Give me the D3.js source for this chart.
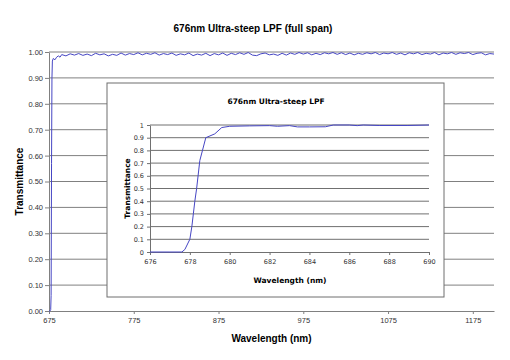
<!DOCTYPE html>
<html>
<head>
<meta charset="utf-8">
<script src="https://cdn.jsdelivr.net/npm/d3@7"></script>
<style>
  body { margin: 0; background: #fff; }
  svg { display: block; }
</style>
</head>
<body>
<svg id="chart" width="510" height="360"></svg>
<script>
// full span data (nm, transmittance)
const fullWavelength = [675, 676, 677, 677.5, 678, 678.5, 679, 680, 682, 684, 686, 688,
  690, 695, 700, 705, 710, 715, 720, 725, 730, 735, 740, 745, 750, 755, 760, 765, 770, 775,
  780, 785, 790, 795, 800, 805, 810, 815, 820, 825, 830, 835, 840, 845, 850, 855, 860, 865,
  870, 875, 880, 885, 890, 895, 900, 905, 910, 915, 920, 925, 930, 935, 940, 945, 950, 955,
  960, 965, 970, 975, 980, 985, 990, 995, 1000, 1005, 1010, 1015, 1020, 1025, 1030, 1035,
  1040, 1045, 1050, 1055, 1060, 1065, 1070, 1075, 1080, 1085, 1090, 1095, 1100, 1105, 1110,
  1115, 1120, 1125, 1130, 1135, 1140, 1145, 1150, 1155, 1160, 1165, 1170, 1175, 1180, 1185,
  1190, 1195, 1200];
const fullTransmittance = [0.0, 0.0, 0.005, 0.06, 0.57, 0.9, 0.965, 0.975, 0.97, 0.98, 0.985, 0.98,
  0.990, 0.985, 0.993, 0.988, 0.994, 0.987, 0.992, 0.986, 0.995, 0.989, 0.993, 0.985, 0.991, 0.987,
  0.996, 0.988, 0.994, 0.990, 0.997, 0.989, 0.995, 0.991, 0.997, 0.988, 0.994, 0.990, 0.996, 0.987,
  0.993, 0.989, 0.996, 0.986, 0.992, 0.988, 0.995, 0.986, 0.994, 0.989, 0.996, 0.987, 0.995, 0.990,
  0.997, 0.991, 0.998, 0.988, 0.986, 0.993, 0.996, 0.989, 0.992, 0.987, 0.995, 0.988, 0.996, 0.991,
  0.998, 0.992, 0.997, 0.989, 0.995, 0.990, 0.997, 0.993, 0.998, 0.991, 0.997, 0.990, 0.996, 0.989,
  0.995, 0.991, 0.997, 0.993, 0.998, 0.990, 0.996, 0.993, 0.998, 0.991, 0.996, 0.989, 0.997, 0.993,
  0.998, 0.990, 0.995, 0.992, 0.998, 0.989, 0.996, 0.993, 0.998, 0.991, 0.997, 0.994, 0.998, 0.990,
  0.995, 0.997, 0.989, 0.994, 0.992];

// zoomed edge data
const insetWavelength = [676, 677, 677.6, 677.75, 678, 678.1, 678.25, 678.34, 678.5, 678.8, 679.25,
  679.6, 680, 681, 682, 682.4, 683, 683.4, 684, 684.8, 685.2, 686, 686.4, 686.7, 687.5, 688.9, 690];
const insetTransmittance = [0, 0, 0, 0.02, 0.1, 0.2, 0.4, 0.5, 0.72, 0.9, 0.93,
  0.98, 0.99, 0.993, 0.995, 0.99, 0.995, 0.985, 0.985, 0.986, 1.0, 1.0, 0.995, 1.0, 0.996, 0.996, 1.0];

const fullXTicks = [675, 775, 875, 975, 1075, 1175];
const fullYTicks = d3.range(0, 11).map(d => d / 10);
const insetXTicks = [676, 678, 680, 682, 684, 686, 688, 690];
const insetYTicks = d3.range(0, 11).map(d => d / 10);

const LINE_COLOR = '#4646c4';
const GRID_COLOR = '#808080';
const mainFont = '"Liberation Sans", Arial, sans-serif';
const insetFont = '"DejaVu Sans", Verdana, sans-serif';

const svg = d3.select('#chart');

// MAIN PLOT //
const x = d3.scaleLinear().domain([675, 1200]).range([49, 494]);
const y = d3.scaleLinear().domain([0, 1]).range([311, 52]);

// gridlines
svg.append('g')
  .selectAll('line')
  .data(fullYTicks.filter(d => d > 0))
  .enter()
  .append('line')
  .attr('x1', x(675))
  .attr('x2', x(1200))
  .attr('y1', d => y(d))
  .attr('y2', d => y(d))
  .attr('stroke', GRID_COLOR)
  .attr('stroke-width', 1);

const xAxis = svg.append('g')
  .attr('transform', `translate(0, ${y(0)})`)
  .call(d3.axisBottom(x).tickValues(fullXTicks).tickSize(3).tickSizeOuter(0).tickFormat(d3.format('d')));

const yAxis = svg.append('g')
  .attr('transform', `translate(${x(675)}, 0)`)
  .call(d3.axisLeft(y).tickValues(fullYTicks).tickSize(4).tickSizeOuter(0).tickFormat(d3.format('.2f')));

[xAxis, yAxis].forEach(g => {
  g.select('.domain').attr('stroke', GRID_COLOR);
  g.selectAll('.tick line').attr('stroke', GRID_COLOR);
  g.selectAll('text')
    .style('font-family', mainFont)
    .style('font-size', '7.5px')
    .attr('fill', '#333');
});
xAxis.selectAll('text').attr('y', 7);
yAxis.selectAll('text').attr('x', -6);

// curve
const fullData = fullWavelength.map((w, i) => [w, fullTransmittance[i]]);
svg.append('path')
  .datum(fullData)
  .attr('fill', 'none')
  .attr('stroke', LINE_COLOR)
  .attr('stroke-width', 1)
  .attr('d', d3.line().x(d => x(d[0])).y(d => y(d[1])));

// titles
svg.append('text')
  .attr('x', 253)
  .attr('y', 32)
  .style('text-anchor', 'middle')
  .style('font-family', mainFont)
  .style('font-weight', 'bold')
  .style('font-size', '10px')
  .text('676nm Ultra-steep LPF (full span)');

svg.append('text')
  .attr('x', (x(675) + x(1200)) / 2)
  .attr('y', 342)
  .style('text-anchor', 'middle')
  .style('font-family', mainFont)
  .style('font-weight', 'bold')
  .style('font-size', '10px')
  .text('Wavelength (nm)');

svg.append('text')
  .attr('transform', 'rotate(-90)')
  .attr('x', -(y(0) + y(1)) / 2)
  .attr('y', 23)
  .style('text-anchor', 'middle')
  .style('font-family', mainFont)
  .style('font-weight', 'bold')
  .style('font-size', '10px')
  .text('Transmittance');

// INSET //
svg.append('rect')
  .attr('x', 107)
  .attr('y', 83)
  .attr('width', 337)
  .attr('height', 214)
  .attr('fill', '#fff')
  .attr('stroke', '#6e6e6e')
  .attr('stroke-width', 1);

const ix = d3.scaleLinear().domain([676, 690]).range([150, 429]);
const iy = d3.scaleLinear().domain([0, 1]).range([252, 125]);

svg.append('g')
  .selectAll('line')
  .data(insetYTicks.filter(d => d > 0))
  .enter()
  .append('line')
  .attr('x1', ix(676))
  .attr('x2', ix(690))
  .attr('y1', d => iy(d))
  .attr('y2', d => iy(d))
  .attr('stroke', '#707070')
  .attr('stroke-width', 1);

const ixAxis = svg.append('g')
  .attr('transform', `translate(0, ${iy(0)})`)
  .call(d3.axisBottom(ix).tickValues(insetXTicks).tickSize(3).tickSizeOuter(0));

const iyAxis = svg.append('g')
  .attr('transform', `translate(${ix(676)}, 0)`)
  .call(d3.axisLeft(iy).tickValues(insetYTicks).tickSize(3).tickSizeOuter(0).tickFormat(d3.format('~g')));

[ixAxis, iyAxis].forEach(g => {
  g.select('.domain').attr('stroke', '#707070');
  g.selectAll('.tick line').attr('stroke', '#707070');
  g.selectAll('text')
    .style('font-family', insetFont)
    .style('font-size', '6.5px')
    .attr('fill', '#333');
});
ixAxis.selectAll('text').attr('y', 7);
iyAxis.selectAll('text').attr('x', -6);

const insetData = insetWavelength.map((w, i) => [w, insetTransmittance[i]]);
svg.append('path')
  .datum(insetData)
  .attr('fill', 'none')
  .attr('stroke', LINE_COLOR)
  .attr('stroke-width', 1)
  .attr('d', d3.line().x(d => ix(d[0])).y(d => iy(d[1])));

svg.append('text')
  .attr('x', 276)
  .attr('y', 104)
  .style('text-anchor', 'middle')
  .style('font-family', insetFont)
  .style('font-weight', 'bold')
  .style('font-size', '7.5px')
  .text('676nm Ultra-steep LPF');

svg.append('text')
  .attr('x', 290)
  .attr('y', 283)
  .style('text-anchor', 'middle')
  .style('font-family', insetFont)
  .style('font-weight', 'bold')
  .style('font-size', '7.5px')
  .text('Wavelength (nm)');

svg.append('text')
  .attr('transform', 'rotate(-90)')
  .attr('x', -(iy(0) + iy(1)) / 2)
  .attr('y', 130)
  .style('text-anchor', 'middle')
  .style('font-family', insetFont)
  .style('font-weight', 'bold')
  .style('font-size', '7.5px')
  .text('Transmittance');
</script>
</body>
</html>
